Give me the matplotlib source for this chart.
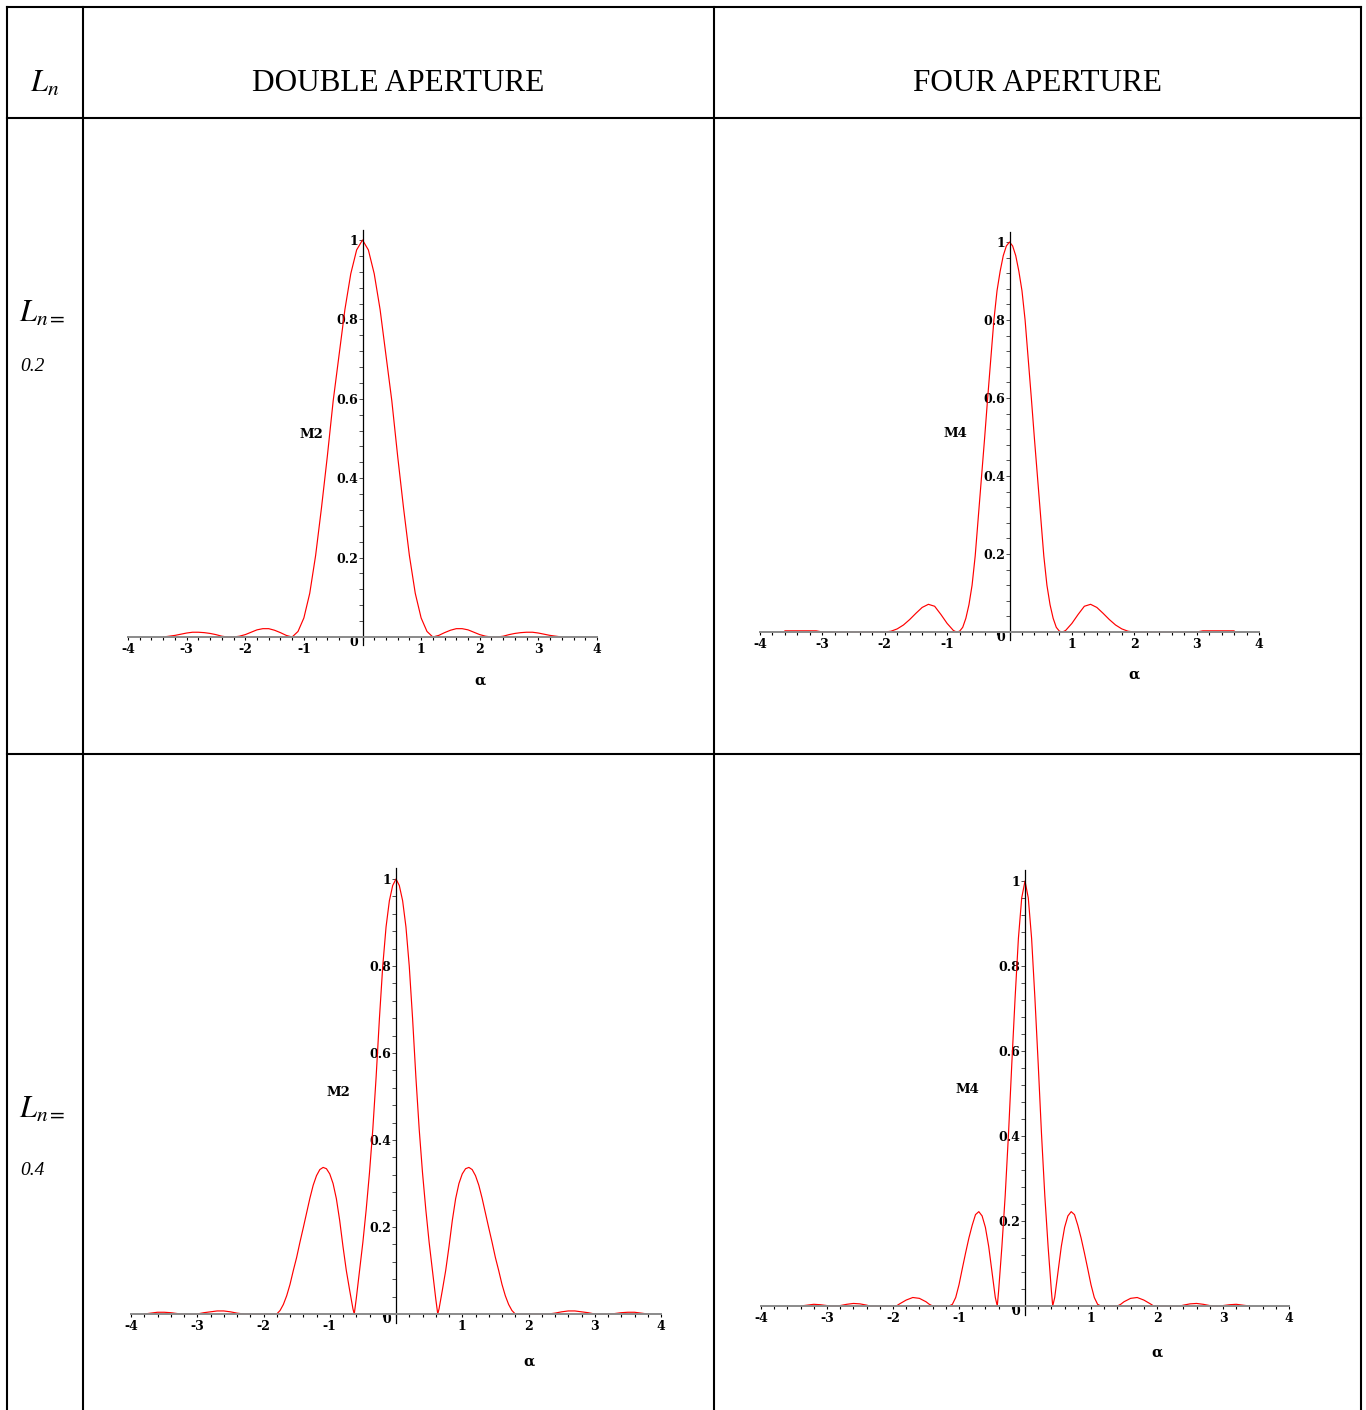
import matplotlib
matplotlib.use('Agg')
import matplotlib.pyplot as plt
from matplotlib.lines import Line2D
from matplotlib.ticker import MultipleLocator, FixedLocator
from matplotlib.transforms import ScaledTranslation

# ---------------- data ----------------
col_titles = ['DOUBLE APERTURE', 'FOUR APERTURE']
row_values = ['0.2', '0.4']
y_names = ['M2', 'M4']

x_ticks = [-4, -3, -2, -1, 1, 2, 3, 4]
x_tick_labels = ['-4', '-3', '-2', '-1', '1', '2', '3', '4']
y_ticks = [0, 0.2, 0.4, 0.6, 0.8, 1.0]
y_tick_labels = ['0', '0.2', '0.4', '0.6', '0.8', '1']

# double aperture, Ln = 0.2
dbl_02_x = [-3.4, -3.3, -3.2, -3.1, -3.0, -2.9, -2.8, -2.7, -2.6, -2.5, -2.4, -2.3,
            -2.2, -2.1, -2.0, -1.9, -1.8, -1.7, -1.6, -1.5, -1.4, -1.3, -1.2, -1.1,
            -1.0, -0.9, -0.8, -0.7, -0.6, -0.5, -0.4, -0.3, -0.2, -0.1, 0.0,
            0.1, 0.2, 0.3, 0.4, 0.5, 0.6, 0.7, 0.8, 0.9, 1.0, 1.1, 1.2, 1.3, 1.4,
            1.5, 1.6, 1.7, 1.8, 1.9, 2.0, 2.1, 2.2, 2.3, 2.4, 2.5, 2.6, 2.7, 2.8,
            2.9, 3.0, 3.1, 3.2, 3.3, 3.4]
dbl_02_y = [0.000, 0.002, 0.004, 0.007, 0.010, 0.012, 0.012, 0.011, 0.009, 0.006, 0.002, 0.000,
            0.000, 0.002, 0.006, 0.012, 0.018, 0.021, 0.021, 0.017, 0.011, 0.004, 0.000, 0.014,
            0.048, 0.110, 0.205, 0.325, 0.455, 0.595, 0.710, 0.825, 0.915, 0.975, 1.000,
            0.975, 0.915, 0.825, 0.710, 0.595, 0.455, 0.325, 0.205, 0.110, 0.048, 0.014, 0.000, 0.004, 0.011,
            0.017, 0.021, 0.021, 0.018, 0.012, 0.006, 0.002, 0.000, 0.000, 0.002, 0.006, 0.009, 0.011, 0.012,
            0.012, 0.010, 0.007, 0.004, 0.002, 0.000]

# four aperture, Ln = 0.2
four_02_x = [-3.6, -3.5, -3.4, -3.3, -3.2, -3.1, -3.0, -2.5, -2.0, -1.9, -1.8, -1.7, -1.6,
             -1.5, -1.4, -1.3, -1.2, -1.1, -1.0, -0.9, -0.85, -0.8, -0.75, -0.7, -0.65, -0.6,
             -0.55, -0.5, -0.45, -0.4, -0.35, -0.3, -0.25, -0.2, -0.15, -0.1, -0.05, 0.0,
             0.05, 0.1, 0.15, 0.2, 0.25, 0.3, 0.35, 0.4, 0.45, 0.5, 0.55, 0.6, 0.65, 0.7,
             0.75, 0.8, 0.85, 0.9, 1.0, 1.1, 1.2, 1.3, 1.4, 1.5, 1.6, 1.7, 1.8, 1.9, 2.0,
             2.5, 3.0, 3.1, 3.2, 3.3, 3.4, 3.5, 3.6]
four_02_y = [0.003, 0.003, 0.003, 0.003, 0.003, 0.003, 0.000, 0.000, 0.000, 0.002, 0.008, 0.018, 0.032,
             0.048, 0.063, 0.071, 0.066, 0.045, 0.022, 0.004, 0.000, 0.002, 0.012, 0.035, 0.070, 0.120,
             0.195, 0.295, 0.395, 0.495, 0.600, 0.700, 0.800, 0.875, 0.925, 0.965, 0.990, 1.000,
             0.990, 0.965, 0.925, 0.875, 0.800, 0.700, 0.600, 0.495, 0.395, 0.295, 0.195, 0.120, 0.070, 0.035,
             0.012, 0.002, 0.000, 0.004, 0.022, 0.045, 0.066, 0.071, 0.063, 0.048, 0.032, 0.018, 0.008, 0.002, 0.000,
             0.000, 0.000, 0.003, 0.003, 0.003, 0.003, 0.003, 0.003]

# double aperture, Ln = 0.4
dbl_04_x = [-3.8, -3.7, -3.6, -3.5, -3.4, -3.3, -3.2, -3.0, -2.9, -2.8, -2.7, -2.6, -2.5, -2.4,
            -2.3, -2.0, -1.8, -1.75, -1.7, -1.65, -1.6, -1.55, -1.5, -1.45, -1.4, -1.35, -1.3,
            -1.25, -1.2, -1.15, -1.1, -1.05, -1.0, -0.95, -0.9, -0.85, -0.8, -0.75, -0.7, -0.65,
            -0.63, -0.6, -0.55, -0.5, -0.45, -0.4, -0.35, -0.3, -0.25, -0.2, -0.15, -0.1, -0.05,
            0.0,
            0.05, 0.1, 0.15, 0.2, 0.25, 0.3, 0.35, 0.4, 0.45, 0.5, 0.55, 0.6, 0.63, 0.65,
            0.7, 0.75, 0.8, 0.85, 0.9, 0.95, 1.0, 1.05, 1.1, 1.15, 1.2, 1.25, 1.3, 1.35, 1.4,
            1.45, 1.5, 1.55, 1.6, 1.65, 1.7, 1.75, 1.8, 2.0, 2.3, 2.4, 2.5, 2.6, 2.7, 2.8, 2.9,
            3.0, 3.2, 3.3, 3.4, 3.5, 3.6, 3.7, 3.8]
dbl_04_y = [0.000, 0.002, 0.004, 0.004, 0.003, 0.001, 0.000, 0.000, 0.003, 0.005, 0.007, 0.007, 0.005, 0.002,
            0.000, 0.000, 0.000, 0.008, 0.022, 0.042, 0.068, 0.100, 0.130, 0.165, 0.198, 0.232, 0.266,
            0.296, 0.318, 0.332, 0.337, 0.334, 0.322, 0.300, 0.265, 0.215, 0.155, 0.100, 0.055, 0.012,
            0.000, 0.035, 0.100, 0.165, 0.240, 0.325, 0.425, 0.545, 0.680, 0.800, 0.890, 0.950, 0.985,
            1.000,
            0.985, 0.950, 0.890, 0.800, 0.680, 0.545, 0.425, 0.325, 0.240, 0.165, 0.100, 0.035, 0.000, 0.012,
            0.055, 0.100, 0.155, 0.215, 0.265, 0.300, 0.322, 0.334, 0.337, 0.332, 0.318, 0.296, 0.266, 0.232, 0.198,
            0.165, 0.130, 0.100, 0.068, 0.042, 0.022, 0.008, 0.000, 0.000, 0.000, 0.002, 0.005, 0.007, 0.007, 0.005, 0.003,
            0.000, 0.000, 0.001, 0.003, 0.004, 0.004, 0.002, 0.000]

# four aperture, Ln = 0.4
four_04_x = [-3.4, -3.3, -3.2, -3.1, -3.0, -2.9, -2.8, -2.7, -2.6, -2.5, -2.4, -2.35, -1.95,
             -1.9, -1.8, -1.7, -1.6, -1.5, -1.45, -1.4, -1.15, -1.1, -1.05, -1.0, -0.95, -0.9,
             -0.85, -0.8, -0.75, -0.7, -0.65, -0.6, -0.55, -0.5, -0.45, -0.42, -0.4, -0.35,
             -0.3, -0.25, -0.2, -0.15, -0.1, -0.05, 0.0,
             0.05, 0.1, 0.15, 0.2, 0.25, 0.3, 0.35, 0.4, 0.42, 0.45, 0.5, 0.55, 0.6, 0.65,
             0.7, 0.75, 0.8, 0.85, 0.9, 0.95, 1.0, 1.05, 1.1, 1.15, 1.4, 1.45, 1.5, 1.6, 1.7,
             1.8, 1.9, 1.95, 2.35, 2.4, 2.5, 2.6, 2.7, 2.8, 2.9, 3.0, 3.1, 3.2, 3.3, 3.4]
four_04_y = [0.000, 0.002, 0.004, 0.003, 0.001, 0.000, 0.001, 0.004, 0.006, 0.005, 0.002, 0.000, 0.000,
             0.005, 0.014, 0.020, 0.018, 0.010, 0.004, 0.000, 0.000, 0.004, 0.020, 0.050, 0.088, 0.125,
             0.160, 0.190, 0.215, 0.222, 0.212, 0.185, 0.140, 0.080, 0.020, 0.000, 0.035, 0.140,
             0.260, 0.405, 0.570, 0.725, 0.865, 0.960, 1.000,
             0.960, 0.865, 0.725, 0.570, 0.405, 0.260, 0.140, 0.035, 0.000, 0.020, 0.080, 0.140, 0.185, 0.212,
             0.222, 0.215, 0.190, 0.160, 0.125, 0.088, 0.050, 0.020, 0.004, 0.000, 0.000, 0.004, 0.010, 0.018, 0.020,
             0.014, 0.005, 0.000, 0.000, 0.002, 0.005, 0.006, 0.004, 0.001, 0.000, 0.001, 0.003, 0.004, 0.002, 0.000]

# ---------------- figure ----------------
W, H = 1366, 1410
plt.rcParams['mathtext.fontset'] = 'stix'
plt.rcParams['font.family'] = ['Liberation Serif', 'DejaVu Serif']
fig = plt.figure(figsize=(W / 100, H / 100), dpi=100)

PLOT_FONT = ['DejaVu Serif']


def fx(px):
    return px / W


def fy(py):
    return 1 - py / H


LW_TAB = 1.5


def hline(y, x0, x1):
    fig.add_artist(Line2D([fx(x0), fx(x1)], [fy(y), fy(y)], transform=fig.transFigure,
                          color='black', lw=LW_TAB, solid_capstyle='projecting'))


def vline(x, y0, y1):
    fig.add_artist(Line2D([fx(x), fx(x)], [fy(y0), fy(y1)], transform=fig.transFigure,
                          color='black', lw=LW_TAB, solid_capstyle='projecting'))


for yy in (6.5, 118, 754):
    hline(yy, 7, 1361)
for xx in (7, 83, 714, 1361):
    vline(xx, 6.5, 1412)

# header
fig.text(fx(44.5), fy(92), r'$L_n$', fontsize=22, ha='center', va='baseline')
fig.text(fx(398.5), fy(91), col_titles[0], fontsize=22.5, ha='center', va='baseline')
fig.text(fx(1037.5), fy(91), col_titles[1], fontsize=22.5, ha='center', va='baseline')

# row labels
for base_L, base_v, val in ((322, 371, row_values[0]), (1118, 1175, row_values[1])):
    fig.text(fx(19), fy(base_L), r'$L_{n=}$', fontsize=22, ha='left', va='baseline')
    fig.text(fx(20), fy(base_v), val, fontsize=14, style='italic', ha='left', va='baseline')


def make_plot(px_m4, px_p4, py_zero, py_one, xs, ys, ylab):
    unit = py_zero - py_one
    ybot, ytop = -0.02, 1.025
    left = fx(px_m4)
    width = (px_p4 - px_m4) / W
    bottom = fy(py_zero - ybot * unit)
    height = (ytop - ybot) * unit / H
    ax = fig.add_axes([left, bottom, width, height])
    ax.set_xlim(-4, 4)
    ax.set_ylim(ybot, ytop)
    ax.patch.set_visible(False)
    ax.plot(xs, ys, color='#ff0000', lw=0.85, clip_on=False, zorder=2)
    for s in ('top', 'right'):
        ax.spines[s].set_visible(False)
    ax.spines['left'].set_position(('data', 0))
    ax.spines['bottom'].set_position(('data', 0))
    ax.spines['bottom'].set_color('#8a8a8a')
    ax.spines['bottom'].set_linewidth(1.4)
    ax.spines['left'].set_color('black')
    ax.spines['left'].set_linewidth(0.9)
    ax.spines['bottom'].set_zorder(3)
    ax.spines['left'].set_zorder(3)

    ax.xaxis.set_major_locator(FixedLocator(x_ticks))
    ax.set_xticklabels(x_tick_labels, fontsize=9, fontweight='bold', family=PLOT_FONT)
    ax.xaxis.set_minor_locator(MultipleLocator(0.2))
    ax.yaxis.set_major_locator(FixedLocator(y_ticks))
    ax.set_yticklabels(y_tick_labels, fontsize=9, fontweight='bold', family=PLOT_FONT)
    ax.yaxis.set_minor_locator(MultipleLocator(0.04))
    ax.tick_params(axis='x', which='both', direction='out', length=2.5, width=0.8,
                   color='black', pad=1.5)
    ax.tick_params(axis='y', which='both', direction='out', length=3, width=0.6,
                   color='#333333', pad=0.3)
    lab0 = ax.get_yticklabels()[0]
    lab0.set_transform(lab0.get_transform() + ScaledTranslation(0, -3 / 72, fig.dpi_scale_trans))

    ax.text(-0.87, 0.51, ylab, fontsize=9.5, fontweight='bold', family=PLOT_FONT,
            ha='center', va='center')
    ax.text(2.0, -0.11, 'α', fontsize=10.5, fontweight='bold', family=PLOT_FONT,
            ha='center', va='center')
    return ax


make_plot(128, 597, 637, 240, dbl_02_x, dbl_02_y, y_names[0])
make_plot(760, 1259, 632, 242, four_02_x, four_02_y, y_names[1])
make_plot(131, 661, 1314, 879, dbl_04_x, dbl_04_y, y_names[0])
make_plot(761, 1289, 1306, 881, four_04_x, four_04_y, y_names[1])

fig.savefig('out.png', dpi=100)
